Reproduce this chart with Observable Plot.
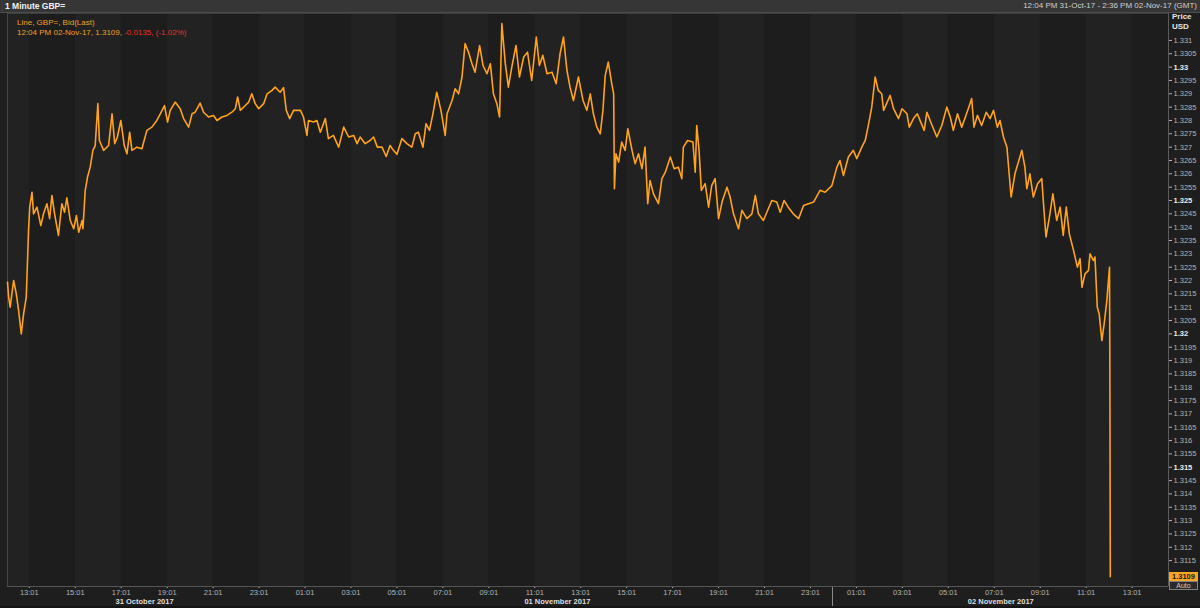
<!DOCTYPE html>
<html>
<head>
<meta charset="utf-8">
<script src="https://cdn.jsdelivr.net/npm/d3@7"></script>
<script src="https://cdn.jsdelivr.net/npm/@observablehq/plot@0.6"></script>
<style>
  html, body { margin: 0; padding: 0; background: #1b1b1b; }
  #wrap { position: relative; width: 1200px; height: 608px; background: #1e1e1e; overflow: hidden;
          font-family: "Liberation Sans", Arial, sans-serif; }
  #chart { position: absolute; left: 0; top: 0; }
  .ov { position: absolute; white-space: nowrap; }
</style>
</head>
<body>
<div id="wrap">
  <div id="chart"></div>
</div>
<script>
// ---- DATA (1-minute GBP= bid) ----
// minutes elapsed since 12:04 GMT, 31-Oct-2017
const minutes = [
  0,3,7,16,23,29,36,42,49,55,
  58,64,68,77,87,94,103,110,116,123,
  133,142,149,155,164,173,180,186,195,197,
  203,209,216,223,229,236,240,251,264,273,
  280,287,296,305,312,319,325,338,351,364,
  377,390,399,410,418,425,438,451,460,473,
  482,490,503,512,525,538,547,560,573,586,
  595,601,608,621,630,638,647,656,669,678,
  691,699,712,721,728,737,747,765,773,782,
  786,799,808,817,830,838,851,865,878,891,
  904,913,921,934,947,956,966,978,989,999,
  1008,1017,1030,1043,1056,1065,1073,1085,1093,1102,
  1111,1121,1132,1143,1148,1161,1169,1178,1187,1195,
  1204,1213,1221,1233,1242,1252,1261,1269,1278,1285,
  1291,1300,1308,1317,1328,1337,1348,1358,1369,1381,
  1389,1398,1409,1422,1433,1443,1452,1461,1469,1478,
  1491,1503,1513,1522,1530,1539,1548,1555,1561,1569,
  1578,1583,1585,1589,1596,1604,1613,1620,1631,1639,
  1648,1657,1665,1672,1678,1687,1700,1709,1718,1731,
  1741,1752,1761,1765,1776,1790,1796,1800,1806,1812,
  1822,1831,1839,1848,1857,1866,1879,1887,1896,1909,
  1918,1931,1944,1953,1961,1974,1983,1996,2009,2018,
  2028,2039,2052,2066,2079,2092,2105,2122,2135,2153,
  2166,2174,2183,2196,2209,2218,2231,2240,2248,2257,
  2266,2274,2283,2288,2305,2314,2327,2336,2349,2355,
  2366,2376,2385,2394,2401,2411,2427,2440,2453,2462,
  2470,2481,2492,2503,2512,2518,2524,2533,2544,2556,
  2566,2575,2585,2592,2601,2610,2621,2631,2649,2657,
  2662,2670,2679,2690,2701,2705,2712,2721,2730,2740,
  2749,2757,2765,2773,2784,2794,2801,2806,2814,2823,
  2827,2836,2840,2846,2851,2858,2864,2871,2878,2879,
  2880
];
const bid = [
  1.32194,1.32138,1.32100,1.32200,1.32150,1.32088,1.32000,1.32075,1.32138,1.32388,
  1.32475,1.32531,1.32450,1.32475,1.32406,1.32450,1.32488,1.32432,1.32519,1.32450,
  1.32369,1.32488,1.32456,1.32510,1.32425,1.32394,1.32444,1.32381,1.32425,1.32394,
  1.32538,1.32588,1.32625,1.32688,1.32706,1.32863,1.32725,1.32688,1.32706,1.32825,
  1.32713,1.32738,1.32800,1.32706,1.32675,1.32756,1.32688,1.32700,1.32694,1.32763,
  1.32775,1.32800,1.32825,1.32856,1.32794,1.32838,1.32869,1.32844,1.32807,1.32775,
  1.32825,1.32831,1.32865,1.32831,1.32813,1.32819,1.32800,1.32813,1.32819,1.32831,
  1.32844,1.32888,1.32838,1.32856,1.32869,1.32900,1.32863,1.32844,1.32863,1.32900,
  1.32913,1.32925,1.32906,1.32923,1.32838,1.32807,1.32838,1.32838,1.32813,1.32744,
  1.32800,1.32794,1.32800,1.32756,1.32807,1.32732,1.32744,1.32700,1.32775,1.32738,
  1.32744,1.32713,1.32738,1.32713,1.32725,1.32738,1.32700,1.32700,1.32665,1.32706,
  1.32688,1.32673,1.32732,1.32713,1.32700,1.32750,1.32756,1.32700,1.32788,1.32763,
  1.32825,1.32906,1.32838,1.32744,1.32825,1.32875,1.32919,1.32900,1.32963,1.33088,
  1.33056,1.33013,1.32981,1.33081,1.33006,1.32975,1.33013,1.32900,1.32863,1.32813,
  1.33163,1.33013,1.32925,1.33000,1.33081,1.32963,1.33038,1.33056,1.32950,1.33113,
  1.33006,1.33044,1.32975,1.32981,1.32938,1.33050,1.33113,1.32988,1.32925,1.32875,
  1.32963,1.32875,1.32838,1.32900,1.32825,1.32775,1.32750,1.32838,1.32969,1.33019,
  1.32938,1.32900,1.32544,1.32675,1.32644,1.32719,1.32688,1.32769,1.32688,1.32638,
  1.32675,1.32619,1.32700,1.32488,1.32575,1.32525,1.32488,1.32582,1.32606,1.32663,
  1.32619,1.32625,1.32582,1.32700,1.32725,1.32719,1.32606,1.32781,1.32688,1.32538,
  1.32563,1.32475,1.32556,1.32582,1.32432,1.32494,1.32550,1.32513,1.32450,1.32394,
  1.32463,1.32432,1.32450,1.32519,1.32450,1.32425,1.32456,1.32500,1.32494,1.32456,
  1.32500,1.32475,1.32450,1.32432,1.32481,1.32488,1.32494,1.32538,1.32531,1.32556,
  1.32625,1.32650,1.32594,1.32663,1.32688,1.32657,1.32700,1.32725,1.32781,1.32850,
  1.32963,1.32913,1.32900,1.32838,1.32894,1.32844,1.32807,1.32844,1.32825,1.32775,
  1.32807,1.32825,1.32794,1.32763,1.32831,1.32794,1.32738,1.32781,1.32850,1.32813,
  1.32763,1.32825,1.32775,1.32819,1.32856,1.32882,1.32775,1.32819,1.32781,1.32831,
  1.32807,1.32838,1.32775,1.32800,1.32738,1.32700,1.32513,1.32600,1.32688,1.32625,
  1.32544,1.32600,1.32513,1.32563,1.32582,1.32500,1.32363,1.32438,1.32525,1.32425,
  1.32475,1.32369,1.32475,1.32375,1.32313,1.32250,1.32282,1.32175,1.32225,1.32238,
  1.32300,1.32275,1.32288,1.32100,1.32075,1.31975,1.32038,1.32125,1.32250,1.31788,
  1.31090
];
const lastPrice = 1.3109;

// ---- TICKS / LABELS ----
const xTickTimes = [
  "2017-10-31T13:01Z","2017-10-31T15:01Z","2017-10-31T17:01Z","2017-10-31T19:01Z","2017-10-31T21:01Z","2017-10-31T23:01Z",
  "2017-11-01T01:01Z","2017-11-01T03:01Z","2017-11-01T05:01Z","2017-11-01T07:01Z","2017-11-01T09:01Z","2017-11-01T11:01Z",
  "2017-11-01T13:01Z","2017-11-01T15:01Z","2017-11-01T17:01Z","2017-11-01T19:01Z","2017-11-01T21:01Z","2017-11-01T23:01Z",
  "2017-11-02T01:01Z","2017-11-02T03:01Z","2017-11-02T05:01Z","2017-11-02T07:01Z","2017-11-02T09:01Z","2017-11-02T11:01Z",
  "2017-11-02T13:01Z"
];
const yTicks = [1.3115,1.312,1.3125,1.313,1.3135,1.314,1.3145,1.315,1.3155,1.316,1.3165,1.317,1.3175,1.318,1.3185,
  1.319,1.3195,1.32,1.3205,1.321,1.3215,1.322,1.3225,1.323,1.3235,1.324,1.3245,1.325,1.3255,1.326,1.3265,1.327,1.3275,
  1.328,1.3285,1.329,1.3295,1.33,1.3305,1.331];
const yMajorTicks = [1.315, 1.32, 1.325, 1.33];
const dayLabels = ["31 October 2017", "01 November 2017", "02 November 2017"];
const dayStarts = ["2017-10-31T00:00Z", "2017-11-01T00:00Z", "2017-11-02T00:00Z", "2017-11-03T00:00Z"];
const windowStart = "2017-10-31T12:04Z";
const windowEnd = "2017-11-02T14:36Z";

// ---- BUILD ----
const t0 = new Date(windowStart), t1 = new Date(windowEnd);
const data = minutes.map((m, i) => ({time: new Date(+t0 + m * 60000), bid: bid[i]}));
const xTickDates = xTickTimes.map(s => new Date(s));
const edges = [t0, ...xTickDates, t1];
const bands = edges.slice(0, -1).map((d, i) => ({x1: d, x2: edges[i + 1], odd: i % 2 === 0}));
const days = dayLabels.map((label, i) => {
  const a = Math.max(+new Date(dayStarts[i]), +t0), b = Math.min(+new Date(dayStarts[i + 1]), +t1);
  return {label, center: new Date((a + b) / 2)};
});
const yDomain = [1.31053, 1.33201];
const fmt = d => String(+d.toFixed(4));

const chart = Plot.plot({
  width: 1200, height: 608,
  marginTop: 13, marginBottom: 22, marginLeft: 7, marginRight: 32,
  style: {background: "transparent", color: "#b4b4b4", fontFamily: "'Liberation Sans', Arial, sans-serif", fontSize: "7.5px", overflow: "visible"},
  x: {type: "utc", domain: [t0, t1], ticks: xTickDates, tickFormat: d3.utcFormat("%H:%M"), tickSize: 2, tickPadding: 1, label: null},
  y: {domain: yDomain, axis: "right", ticks: yTicks, tickFormat: fmt, tickSize: 3, tickPadding: 2, label: null},
  marks: [
    Plot.rect(bands.filter(d => d.odd), {x1: "x1", x2: "x2", fill: "#222222"}),
    Plot.rect(bands.filter(d => !d.odd), {x1: "x1", x2: "x2", fill: "#1d1d1d"}),
    Plot.ruleY([yDomain[0]], {stroke: "#555"}),
    Plot.ruleY([yDomain[1]], {stroke: "#3c3c3c"}),
    Plot.ruleX([t1], {stroke: "#5a5a5a"}),
    Plot.ruleX([t0], {stroke: "#444"}),
    Plot.line(data, {x: "time", y: "bid", stroke: "#ffa21c", strokeWidth: 1.6, strokeLinejoin: "round"}),
    Plot.text(days, {x: "center", text: "label", frameAnchor: "bottom", dy: 17, fontWeight: "bold", fill: "#dedede", fontSize: 7.5})
  ]
});
document.getElementById("chart").appendChild(chart);

// bold major y labels
const majorSet = new Set(yMajorTicks.map(fmt));
d3.select(chart).selectAll("text").each(function() {
  if (majorSet.has(this.textContent.trim())) {
    d3.select(this).attr("font-weight", "bold").attr("fill", "#ececec").style("fill", "#ececec");
  }
});

// ---- OVERLAYS ----
const wrap = document.getElementById("wrap");
const xs = chart.scale("x"), ys = chart.scale("y");
function ov(html, css) {
  const d = document.createElement("div");
  d.className = "ov";
  d.innerHTML = html;
  Object.assign(d.style, css);
  wrap.appendChild(d);
  return d;
}
// title bar
ov("", {left: "0px", top: "0px", width: "1200px", height: "12px", background: "#363636", borderBottom: "1px solid #4d4d4d"});
ov("1 Minute GBP=", {left: "5px", top: "0px", lineHeight: "12px", fontSize: "8.5px", fontWeight: "bold", color: "#f2f2f2"});
ov("12:04 PM 31-Oct-17 - 2:36 PM 02-Nov-17 (GMT)", {right: "3px", top: "0px", lineHeight: "12px", fontSize: "8px", color: "#cfcfcf"});
// legend
ov("Line, GBP=, Bid(Last)", {left: "17px", top: "18px", lineHeight: "10px", fontSize: "8px", color: "#f0a028"});
ov('12:04 PM 02-Nov-17, 1.3109, <span style="color:#e8322a">-0.0135, (-1.02%)</span>',
   {left: "17px", top: "27.5px", lineHeight: "10px", fontSize: "8px", color: "#f0a028"});
// price axis heading
ov("Price", {left: "1172px", top: "12px", lineHeight: "10px", fontSize: "8px", fontWeight: "bold", color: "#e6e6e6"});
ov("USD", {left: "1172px", top: "22px", lineHeight: "10px", fontSize: "8px", fontWeight: "bold", color: "#e6e6e6"});
// last price tag
const yl = ys.apply(lastPrice);
ov(String(lastPrice), {left: "1169px", top: (yl - 4.5) + "px", width: "29px", height: "9px", lineHeight: "9px", background: "#f7a524",
   color: "#1a1a1a", fontSize: "7.5px", fontWeight: "bold", textAlign: "center"});
ov("Auto", {left: "1169px", top: (yl + 4.5) + "px", width: "27px", height: "7px", lineHeight: "7px", border: "1px solid #808080",
   background: "#2a2a2a", color: "#cfcfcf", fontSize: "7px", textAlign: "center"});
// day separator at midnight 02-Nov
const xm = xs.apply(new Date(dayStarts[2]));
ov("", {left: (xm - 0.5) + "px", top: "587px", width: "1px", height: "19px", background: "#8a8a8a"});
// outer bottom edge
ov("", {left: "0px", top: "606px", width: "1200px", height: "2px", background: "#141414"});
</script>
</body>
</html>
